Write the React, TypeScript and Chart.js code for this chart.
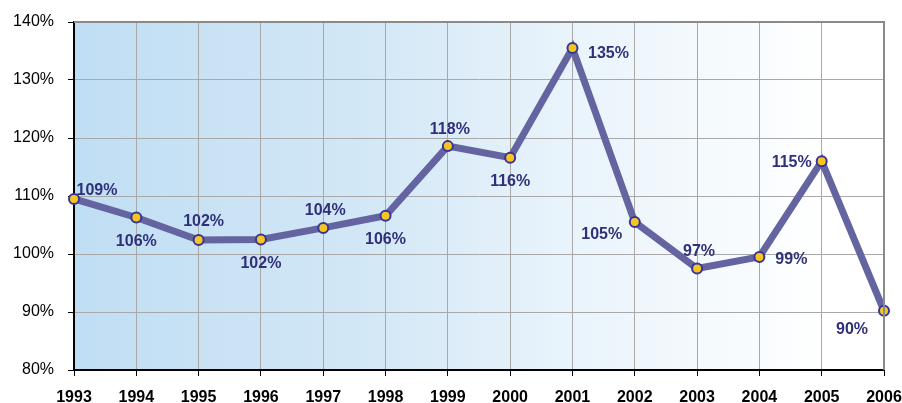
import React, { useEffect, useRef } from "react";
import { Chart, registerables } from "chart.js";

Chart.register(...registerables);

const years = ["1993","1994","1995","1996","1997","1998","1999","2000","2001","2002","2003","2004","2005","2006"];
const values = [109.5,106.3,102.4,102.5,104.5,106.6,118.6,116.6,135.5,105.5,97.5,99.5,116.0,90.2];
const labels = ["109%","106%","102%","102%","104%","106%","118%","116%","135%","105%","97%","99%","115%","90%"];
const labelPos = ["ne","s","n","s","n","s","n","s","e","w","n","e","w","sw"];
const yTicks = [80,90,100,110,120,130,140];

const FONT = "'Liberation Sans', Arial, sans-serif";

const labelPlugin = {
  id: "pointLabels",
  afterDatasetsDraw(chart: any) {
    const ctx = chart.ctx;
    const meta = chart.getDatasetMeta(0);
    ctx.save();
    ctx.font = "bold 16px " + FONT;
    ctx.fillStyle = "#30307a";
    ctx.textAlign = "center";
    ctx.textBaseline = "middle";
    meta.data.forEach((pt: any, i: number) => {
      const p = labelPos[i];
      let dx = 0, dy = 0;
      if (p === "n") { dx = 2; dy = -17; }
      if (p === "s") { dx = 0; dy = 24; }
      if (p === "ne") { dx = 23; dy = -8; }
      if (p === "e") { dx = 36; dy = 5; }
      if (p === "w") { dx = -33; dy = 12; }
      if (p === "sw") { dx = -32; dy = 19; }
      if (i === 11) { dx = 32; dy = 3; }
      if (i === 12) { dx = -30; dy = 1; }
      if (i === 2) { dx = 5; dy = -18; }
      ctx.fillText(labels[i], pt.x + dx, pt.y + dy);
    });
    ctx.restore();
  },
};

const bgPlugin = {
  id: "bgGrad",
  beforeDraw(chart: any) {
    const { ctx, chartArea: a } = chart;
    const g = ctx.createLinearGradient(a.left, 0, a.right, 0);
    g.addColorStop(0, "#c0def3");
    g.addColorStop(0.35, "#d2e7f6");
    g.addColorStop(0.6, "#e8f3fb");
    g.addColorStop(0.85, "#f9fcfe");
    g.addColorStop(0.93, "#ffffff");
    g.addColorStop(1, "#ffffff");
    ctx.save();
    ctx.fillStyle = g;
    ctx.fillRect(a.left, a.top, a.right - a.left, a.bottom - a.top);
    ctx.restore();
  },
  afterDraw(chart: any) {
    const { ctx, chartArea: a } = chart;
    ctx.save();
    ctx.strokeStyle = "#8a8a8a";
    ctx.lineWidth = 2;
    ctx.beginPath();
    ctx.moveTo(a.left, a.top);
    ctx.lineTo(a.right, a.top);
    ctx.lineTo(a.right, a.bottom);
    ctx.stroke();
    ctx.restore();
  },
};

export default function App() {
  const ref = useRef<HTMLCanvasElement>(null);
  useEffect(() => {
    document.body.style.margin = "0";
    const chart = new Chart(ref.current!, {
      type: "line",
      data: {
        labels: years,
        datasets: [
          {
            data: values,
            borderColor: "#6464a0",
            borderWidth: 7,
            pointBackgroundColor: "#f7c520",
            pointBorderColor: "#34349a",
            pointBorderWidth: 2,
            pointRadius: 5,
            tension: 0,
          },
        ],
      },
      options: {
        responsive: false,
        animation: false,
        layout: { padding: { top: 22, right: 18, left: 0, bottom: 0 } },
        plugins: { legend: { display: false }, tooltip: { enabled: false } },
        scales: {
          x: {
            offset: false,
            grid: { color: "#a8a8a8", tickColor: "#000", tickLength: 6, lineWidth: 1 },
            border: { color: "#000", width: 2 },
            ticks: {
              color: "#000",
              font: { family: FONT, size: 16, weight: "bold" },
              padding: 12,
              maxRotation: 0,
              autoSkip: false,
            },
            afterFit: (s: any) => { s.height = 33; s.paddingLeft = 0; s.paddingRight = 0; },
          },
          y: {
            min: 80,
            max: 140,
            afterBuildTicks: (s: any) => { s.ticks = yTicks.map((v) => ({ value: v })); },
            grid: { color: "#a8a8a8", tickColor: "#000", tickLength: 6, lineWidth: 1 },
            border: { color: "#000", width: 2 },
            ticks: {
              color: "#000",
              font: { family: FONT, size: 16 },
              padding: 14,
              callback: (v: any) => v + "%",
            },
            afterFit: (s: any) => { s.width = 74; s.paddingTop = 0; s.paddingBottom = 0; },
          },
        },
      },
      plugins: [bgPlugin, labelPlugin],
    });
    return () => chart.destroy();
  }, []);
  return <canvas ref={ref} width={902} height={403} style={{ display: "block" }} />;
}
